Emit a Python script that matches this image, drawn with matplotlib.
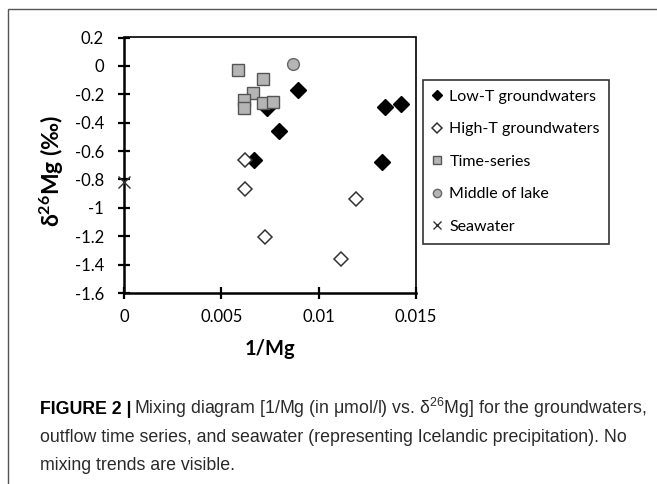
import matplotlib
matplotlib.use("Agg")
import matplotlib.pyplot as plt
from matplotlib.patches import Rectangle

plt.rcParams['font.family'] = ['Lato', 'DejaVu Sans']
plt.rcParams['mathtext.fontset'] = 'custom'
plt.rcParams['mathtext.rm'] = 'Lato'
plt.rcParams['mathtext.bf'] = 'Lato:bold'

# data
lowT_x = [0.00893, 0.00794, 0.00666, 0.00734, 0.01341, 0.01421, 0.01327]
lowT_y = [-0.17, -0.457, -0.665, -0.30, -0.292, -0.269, -0.68]
highT_x = [0.00623, 0.0062, 0.00726, 0.01114, 0.0119]
highT_y = [-0.663, -0.868, -1.204, -1.363, -0.936]
ts_x = [0.00586, 0.00712, 0.00663, 0.00618, 0.00618, 0.00712, 0.00763]
ts_y = [-0.029, -0.092, -0.189, -0.24, -0.30, -0.264, -0.257]
lake_x = [0.0087]
lake_y = [0.01]
sea_x = [0.0]
sea_y = [-0.816]

xticks = [0, 0.005, 0.01, 0.015]
xtick_labels = ["0", "0.005", "0.01", "0.015"]
yticks = [0.2, 0, -0.2, -0.4, -0.6, -0.8, -1, -1.2, -1.4, -1.6]
ytick_labels = ["0.2", "0", "-0.2", "-0.4", "-0.6", "-0.8", "-1", "-1.2", "-1.4", "-1.6"]

fig = plt.figure(figsize=(6.57, 4.84), dpi=100)
ax = fig.add_axes([124/657, 1-293/484, 292/657, 255.5/484])

h1, = ax.plot(lowT_x, lowT_y, 'D', ms=8, color='black', mec='black', ls='none', label='Low-T groundwaters')
h2, = ax.plot(highT_x, highT_y, 'D', ms=7.5, mfc='white', mec='#333333', mew=1.1, ls='none', label='High-T groundwaters')
h3, = ax.plot(ts_x, ts_y, 's', ms=8, mfc='#b5b5b5', mec='#555555', mew=1, ls='none', label='Time-series')
h4, = ax.plot(lake_x, lake_y, 'o', ms=8.5, mfc='#b5b5b5', mec='#666666', mew=1, ls='none', label='Middle of lake')
h5, = ax.plot(sea_x, sea_y, 'x', ms=8, color='#333333', mew=1, ls='none', label='Seawater', clip_on=False, zorder=5)

ax.set_xlim(0, 0.015)
ax.set_ylim(-1.6, 0.2)
ax.set_xticks(xticks)
ax.set_xticklabels(xtick_labels)
ax.set_yticks(yticks)
ax.set_yticklabels(ytick_labels)
ax.tick_params(direction='inout', length=9, width=1.6, labelsize=12)
ax.tick_params(axis='y', pad=10)
ax.tick_params(axis='x', pad=7)
for s in ['left', 'bottom']:
    ax.spines[s].set_linewidth(1.8)
for s in ['top', 'right']:
    ax.spines[s].set_linewidth(1.2)
ax.set_xlabel("1/Mg", fontsize=14.5, fontweight='bold', labelpad=10)
ax.set_ylabel(r"$\mathbf{\delta^{26}}$Mg (‰)", fontsize=16.5, fontweight='bold', labelpad=5)
ax.yaxis.set_label_coords(-0.2, 0.48)

leg = fig.legend(handles=[h1, h2, h3, h4, h5], loc='upper left',
                 bbox_to_anchor=(423/657, 1-80/484), fontsize=11.5,
                 frameon=True, fancybox=False, edgecolor='black',
                 handlelength=0.6, handletextpad=0.45, labelspacing=1.15,
                 borderpad=0.6, markerscale=0.7, borderaxespad=0)
leg.get_frame().set_linewidth(1.2)

# outer frame around the figure
fig.patches.append(Rectangle((8/657, -0.05), 1.1, 1-9/484+0.05, transform=fig.transFigure,
                             fill=False, edgecolor='#555555', linewidth=1, clip_on=False))

# caption
fig.canvas.draw()
r = fig.canvas.get_renderer()
cap_font = ['Liberation Sans', 'DejaVu Sans']
cap_size = 12.8
cap_color = '#2a2a2a'
t0 = fig.text(40/657, 1-414/484, "FIGURE 2 |", fontsize=cap_size, fontweight='bold',
              family=cap_font, va='baseline', color='black')
bb = t0.get_window_extent(renderer=r)
plt.rcParams['mathtext.rm'] = 'Liberation Sans'
fig.text((bb.x1 + 3)/657, 1-414/484,
         r"Mixing diagram [1/Mg (in μmol/l) vs. $\mathregular{\delta^{26}}$Mg] for the groundwaters,",
         fontsize=cap_size, family=cap_font, va='baseline', color=cap_color)
fig.text(40/657, 1-442/484, "outflow time series, and seawater (representing Icelandic precipitation). No",
         fontsize=cap_size, family=cap_font, va='baseline', color=cap_color)
fig.text(40/657, 1-470/484, "mixing trends are visible.", fontsize=cap_size, family=cap_font,
         va='baseline', color=cap_color)

fig.savefig("out.png", dpi=100)
